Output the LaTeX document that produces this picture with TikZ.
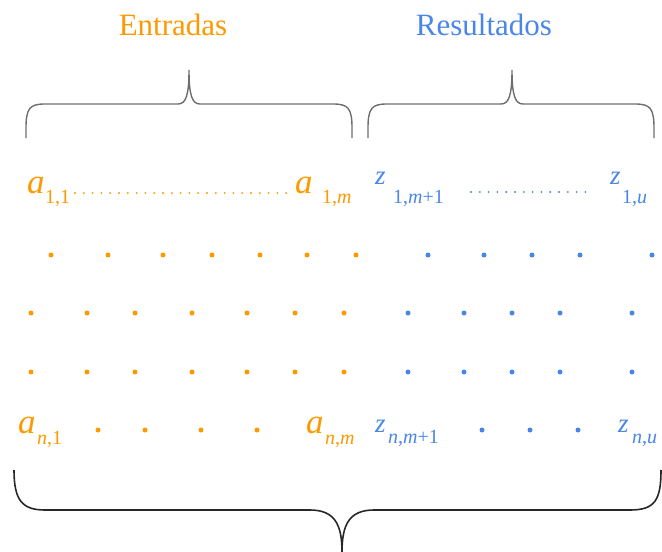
\documentclass[tikz,border=0pt]{standalone}
\usepackage{fontspec}
\setmainfont{Liberation Serif}
\definecolor{org}{RGB}{255,153,0}
\definecolor{blu}{RGB}{74,134,232}
\definecolor{bracegrey}{RGB}{110,110,110}
\definecolor{bracedark}{RGB}{40,40,40}
\begin{document}
\begin{tikzpicture}[x=1pt,y=-1pt,
  let/.style={inner sep=0pt, anchor=base west, font=\fontsize{35}{35}\selectfont\itshape},
  zlet/.style={inner sep=0pt, anchor=base west, font=\fontsize{27}{27}\selectfont\itshape},
  subs/.style={inner sep=0pt, anchor=base west, font=\fontsize{20}{20}\selectfont},
  title/.style={inner sep=0pt, anchor=base, font=\fontsize{31}{31}\selectfont},
  dotline/.style={line width=2.1pt, line cap=round, dash pattern=on 0pt off 8.8pt},
  dotmark/.style={circle, inner sep=0pt, minimum size=5pt},
  topbrace/.style={draw=bracegrey, line width=1.4pt},
  botbrace/.style={draw=bracedark, line width=1.6pt}]
\useasboundingbox (0,0) rectangle (662,552);

% titles
\node[title, text=org] (tin) at (173,35) {Entradas};
\node[title, text=blu] (tout) at (484,35) {Resultados};

% braces
\path[topbrace] (26,138) -- (26,128) .. controls (26,108) and (30,104) .. (45,104) -- (178,104)
  .. controls (186,104) and (189,95) .. (189,70)
  .. controls (189,95) and (192,104) .. (200,104) -- (333,104)
  .. controls (348,104) and (352,108) .. (352,128) -- (352,138);
\path[topbrace] (368,138) -- (368,128) .. controls (368,108) and (372,104) .. (387,104) -- (501,104)
  .. controls (509,104) and (512,95) .. (512,70)
  .. controls (512,95) and (515,104) .. (523,104) -- (635,104)
  .. controls (650,104) and (654,108) .. (654,128) -- (654,138);
\path[botbrace] (14,470) .. controls (14,500) and (22,510) .. (45,510) -- (310,510)
  .. controls (335,510) and (342,525) .. (342,552)
  .. controls (342,525) and (349,510) .. (374,510) -- (630,510)
  .. controls (655,510) and (661,500) .. (661,470);

% first and last rows
\begin{scope}[text=org]
\node[let] (a11) at (27,193) {a};
\node[subs] (a11s) at (45,203) {1,1};
\node[let] (a1m) at (295,193) {a};
\node[subs] (a1ms) at (322,203) {1,\textit{m}};
\node[let] (an1) at (18,433) {a};
\node[subs] (an1s) at (37,444) {\textit{n},1};
\node[let] (anm) at (306,433) {a};
\node[subs] (anms) at (325,444) {\textit{n},\textit{m}};
\end{scope}
\begin{scope}[text=blu]
\node[zlet] (z1a) at (375,184) {z};
\node[subs] (z1as) at (393,203) {1,\textit{m}+1};
\node[zlet] (z1u) at (610,184) {z};
\node[subs] (z1us) at (622,203) {1,\textit{u}};
\node[zlet] (zna) at (375,432) {z};
\node[subs] (znas) at (388,443) {\textit{n},\textit{m}+1};
\node[zlet] (znu) at (618,432) {z};
\node[subs] (znus) at (632,443) {\textit{n},\textit{u}};
\end{scope}

% dotted lines in the first row
\coordinate (o1) at (75,193);
\coordinate (o2) at (287,193);
\coordinate (b1) at (471,192);
\coordinate (b2) at (587,192);
\draw[dotline, draw=org] (o1) -- (o2);
\draw[dotline, draw=blu] (b1) -- (b2);

% dot rows
\foreach \x [count=\i] in {51,108,163,212,260,307,356}
  \node[dotmark, fill=org] (ra\i) at (\x,255) {};
\foreach \x [count=\i] in {428,484,532,580,652}
  \node[dotmark, fill=blu] (rb\i) at (\x,255) {};
\foreach \y/\r in {313/2,372/3}{
  \foreach \x [count=\i] in {31,87,135,192,247,295,344}
    \node[dotmark, fill=org] (o\r-\i) at (\x,\y) {};
  \foreach \x [count=\i] in {408,464,512,560,632}
    \node[dotmark, fill=blu] (b\r-\i) at (\x,\y) {};
}
\foreach \x [count=\i] in {98,145,201,257}
  \node[dotmark, fill=org] (on\i) at (\x,430) {};
\foreach \x [count=\i] in {482,530,578}
  \node[dotmark, fill=blu] (bn\i) at (\x,430) {};
\end{tikzpicture}
\end{document}
